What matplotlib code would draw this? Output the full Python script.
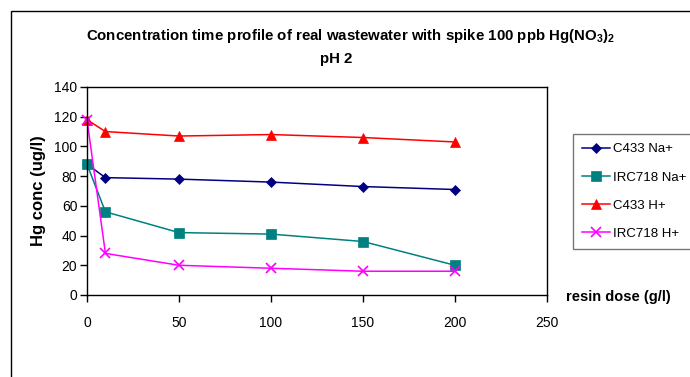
import matplotlib
matplotlib.use("Agg")
import matplotlib.pyplot as plt
from matplotlib.patches import Rectangle

plt.rcParams['font.family'] = ['Liberation Sans', 'DejaVu Sans']
plt.rcParams['mathtext.fontset'] = 'custom'
plt.rcParams['mathtext.rm'] = 'Liberation Sans:bold'
plt.rcParams['mathtext.default'] = 'rm'

# data
dose = [0, 10, 50, 100, 150, 200]
c433_na = [88, 79, 78, 76, 73, 71]
irc718_na = [88, 56, 42, 41, 36, 20]
c433_h = [118, 110, 107, 108, 106, 103]
irc718_h = [118, 28, 20, 18, 16, 16]

series = [
    ("C433 Na+", c433_na, "#000080", "D", 5.5),
    ("IRC718 Na+", irc718_na, "#008080", "s", 7),
    ("C433 H+", c433_h, "#ff0000", "^", 7),
    ("IRC718 H+", irc718_h, "#ff00ff", "x", 7),
]

fig = plt.figure(figsize=(6.9, 3.77), dpi=100)
ax = fig.add_axes([87/690, 1-295/377, (547-87)/690, (295-87)/377])

for label, vals, col, mk, ms in series:
    ax.plot(dose, vals, color=col, marker=mk, markersize=ms, lw=1.1,
            label=label, markeredgewidth=1.2 if mk == "x" else 0.5,
            clip_on=False)

ax.set_xlim(0, 250)
ax.set_ylim(0, 140)
ax.set_xticks(range(0, 251, 50))
ax.set_yticks(range(0, 141, 20))
ax.tick_params(direction='out', length=5, width=1, labelsize=10, pad=2)
ax.tick_params(axis='x', pad=10)
for s in ax.spines.values():
    s.set_linewidth(1)
    s.set_color('black')

ax.set_ylabel("Hg conc (ug/l)", fontsize=12, fontweight='bold', labelpad=6)
fig.text(566/690, 1-297/377, "resin dose (g/l)", fontsize=10.5,
         fontweight='bold', ha='left', va='center')

fig.text(0.508, 1-36/377,
         "Concentration time profile of real wastewater with spike 100 ppb Hg(NO$_3$)$_2$",
         fontsize=10.8, fontweight='bold', ha='center', va='center')
fig.text(0.487, 1-59/377, "pH 2", fontsize=10.8, fontweight='bold',
         ha='center', va='center')

leg = ax.legend(loc='upper left', bbox_to_anchor=(573/690, 1-134/377),
                bbox_transform=fig.transFigure, frameon=True, fancybox=False,
                fontsize=9.5, handlelength=2.1, handletextpad=0.2,
                labelspacing=1.2, borderpad=0.7, borderaxespad=0)
leg.get_frame().set_edgecolor('#555555')
leg.get_frame().set_linewidth(1)

fig.patches.append(Rectangle((11/690, -0.05), 1.1, 1-11/377+0.05,
                             transform=fig.transFigure, fill=False,
                             edgecolor='black', lw=1))

fig.savefig("out.png", dpi=100)
